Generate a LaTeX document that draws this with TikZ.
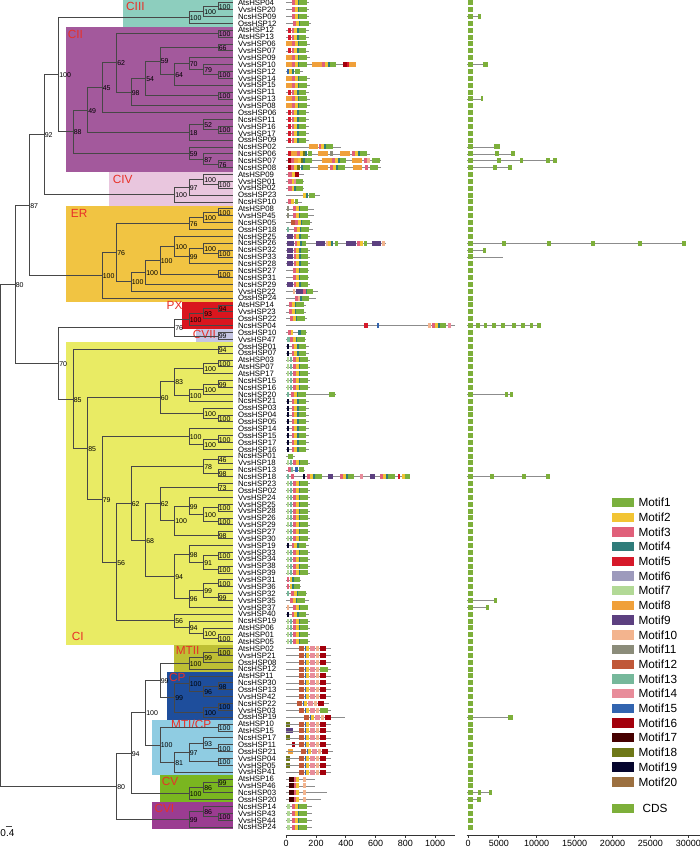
\documentclass[tikz,border=0pt]{standalone}
\usepackage{fontspec}
\setmainfont{Liberation Sans}
\usetikzlibrary{calc}
\definecolor{cIII}{RGB}{141,206,190}
\definecolor{cII}{RGB}{163,89,156}
\definecolor{cIV}{RGB}{233,198,222}
\definecolor{cER}{RGB}{241,196,66}
\definecolor{cPX}{RGB}{217,22,30}
\definecolor{cVII}{RGB}{197,197,227}
\definecolor{cI}{RGB}{233,235,100}
\definecolor{cMTII}{RGB}{190,191,52}
\definecolor{cCP}{RGB}{30,78,156}
\definecolor{cMTI}{RGB}{143,204,226}
\definecolor{cV}{RGB}{122,182,32}
\definecolor{cVI}{RGB}{155,60,145}
\definecolor{cred}{RGB}{232,48,40}
\definecolor{m1}{RGB}{122,176,62}
\definecolor{m2}{RGB}{242,196,51}
\definecolor{m3}{RGB}{224,96,122}
\definecolor{m4}{RGB}{47,124,122}
\definecolor{m5}{RGB}{214,25,42}
\definecolor{m6}{RGB}{157,154,188}
\definecolor{m7}{RGB}{178,217,150}
\definecolor{m8}{RGB}{240,160,58}
\definecolor{m9}{RGB}{92,64,128}
\definecolor{m10}{RGB}{243,180,142}
\definecolor{m11}{RGB}{139,140,122}
\definecolor{m12}{RGB}{192,88,56}
\definecolor{m13}{RGB}{118,184,155}
\definecolor{m14}{RGB}{232,140,154}
\definecolor{m15}{RGB}{50,100,175}
\definecolor{m16}{RGB}{163,0,12}
\definecolor{m17}{RGB}{70,0,0}
\definecolor{m18}{RGB}{110,120,24}
\definecolor{m19}{RGB}{5,5,45}
\definecolor{m20}{RGB}{156,112,64}
\definecolor{cds}{RGB}{125,175,58}
% tree node: name, level, child A, child B, support
\newcommand\tn[5]{%
  \path let \p1=(#3), \p2=(#4) in coordinate (#1) at ({232.7pt-14.5pt*#2},{0.5*(\y1)+0.5*(\y2)});
  \draw[br] (#3) -| (#1) |- (#4);
  \node[bs] (#1l) at (#1) {#5};}
% motif helpers
\newcommand\mtb[4]{\pgfmathsetmacro\myy{2.7+(#1-1)*6.87}\fill[#4] ({#2},{\myy-2.5}) rectangle ({#3},{\myy+2.5});}
\newcommand\mtl[2]{\pgfmathsetmacro\myy{2.7+(#1-1)*6.87}\draw[gl] (286,\myy) -- ({#2},\myy);}
\newcommand\mtc[2]{\mtb{#1}{#2}{#2+2.8}{m3}\mtb{#1}{#2+2.8}{#2+5.6}{m2}\mtb{#1}{#2+5.6}{#2+7.4}{m4}\mtb{#1}{#2+7.4}{#2+14.5}{m1}}
\newcommand\ptA[1]{\mtl{#1}{309}\mtc{#1}{292}}
\newcommand\ptR[1]{\mtl{#1}{309}\mtb{#1}{288}{291}{m5}\mtc{#1}{291.5}}
\newcommand\ptO[1]{\mtl{#1}{310}\mtb{#1}{286}{291.5}{m8}\mtc{#1}{292}}
\newcommand\ptC[1]{\mtl{#1}{309.5}\mtb{#1}{286.5}{288.5}{m7}\mtb{#1}{289.5}{291.5}{m13}\mtc{#1}{293}}
\newcommand\ptN[1]{\mtl{#1}{309}\mtb{#1}{286.5}{288.7}{m19}\mtc{#1}{291.5}}
\newcommand\ptP[1]{\mtl{#1}{310}\mtb{#1}{286.5}{293}{m9}\mtc{#1}{293.5}}
\newcommand\ptM[2]{\mtl{#1}{#2+32}\mtb{#1}{#2}{#2+4.5}{m12}\mtb{#1}{#2+5.5}{#2+7}{m15}\mtb{#1}{#2+7}{#2+10}{m2}\mtb{#1}{#2+11}{#2+15.5}{m14}\mtb{#1}{#2+16.5}{#2+19.5}{m10}\mtb{#1}{#2+20.5}{#2+27}{m16}}
\newcommand\ptV[2]{\mtl{#1}{#2}\mtb{#1}{288.5}{293.5}{m17}\mtb{#1}{293.5}{296}{m3}\mtb{#1}{296}{298.5}{m2}\mtb{#1}{303}{305.5}{m10}}
\newcommand\ptS[1]{\mtl{#1}{311.5}\mtb{#1}{287.3}{289.5}{m7}\mtc{#1}{292}}
% CDS helpers
\newcommand\cdb[3]{\pgfmathsetmacro\myy{2.7+(#1-1)*6.87}\fill[cds] ({#2},{\myy-2.5}) rectangle ({#3},{\myy+2.5});}
\newcommand\cdl[3]{\pgfmathsetmacro\myy{2.7+(#1-1)*6.87}\draw[gl] ({#2},\myy) -- ({#3},\myy);}
\begin{document}
\begin{tikzpicture}[x=1pt,y=-1pt,
  br/.style={draw=black!72,line width=0.75pt},
  bs/.style={anchor=base west,inner sep=0pt,xshift=0.4pt,yshift=-3.1pt,font=\fontsize{7}{7}\selectfont},
  lf/.style={anchor=base west,inner sep=0pt,font=\fontsize{7.8}{8}\selectfont},
  cl/.style={anchor=base west,inner sep=0pt,text=cred,font=\fontsize{11.8}{12}\selectfont},
  gl/.style={draw=black!45,line width=0.55pt},
  ax/.style={draw=black!80,line width=0.7pt},
  axl/.style={anchor=base,inner sep=0pt,font=\fontsize{9}{9}\selectfont},
  lg/.style={anchor=base west,inner sep=0pt,font=\fontsize{11.8}{12}\selectfont}]
\useasboundingbox (0,0) rectangle (700,850);
\fill[white] (0,0) rectangle (700,850);
% clade backgrounds
\fill[cIII] (123.3,0) rectangle (233,27.3);
\fill[cII] (65.7,27.3) rectangle (233,171.7);
\fill[cIV] (109,171.7) rectangle (233,205.7);
\fill[cER] (65.7,205.7) rectangle (233,301.7);
\fill[cPX] (181.7,301.7) rectangle (233,329.3);
\fill[cVII] (196,329.3) rectangle (233,341.7);
\fill[cI] (65.7,342.3) rectangle (233,645);
\fill[cMTII] (174.3,645) rectangle (233,671.7);
\fill[cCP] (166.7,671.7) rectangle (233,720);
\fill[cMTI] (152.3,720) rectangle (233,775);
\fill[cV] (160,775) rectangle (233,801.7);
\fill[cVI] (152.3,801.7) rectangle (233,829.3);
% clade labels
\node[cl] (kIII) at (126,10.9) {CIII};
\node[cl] (kII) at (67.7,38.9) {CII};
\node[cl] (kIV) at (112.7,183.2) {CIV};
\node[cl] (kER) at (70.7,217.9) {ER};
\node[cl] (kPX) at (166.5,309.9) {PX};
\node[cl] (kVII) at (192.7,338.9) {CVII};
\node[cl] (kI) at (71.7,640.2) {CI};
\node[cl] (kMTII) at (175.7,654.7) {MTII};
\node[cl] (kCP) at (169,681.2) {CP};
\node[cl] (kMTI) at (171,728.9) {MTI/CP};
\node[cl] (kV) at (161.7,785.2) {CV};
\node[cl] (kVI) at (154.3,812.2) {CVI};
% leaves
\foreach \nm [count=\i] in {AtsHSP04,VvsHSP20,NcsHSP09,OssHSP12,AtsHSP12,AtsHSP13,VvsHSP06,VvsHSP07,VvsHSP09,VvsHSP10,VvsHSP12,VvsHSP14,VvsHSP15,VvsHSP11,VvsHSP13,VvsHSP08,OssHSP06,NcsHSP11,VvsHSP16,VvsHSP17,OssHSP09,NcsHSP02,NcsHSP06,NcsHSP07,NcsHSP08,AtsHSP09,VvsHSP01,VvsHSP02,OssHSP23,NcsHSP10,AtsHSP08,VvsHSP45,NcsHSP05,OssHSP18,NcsHSP25,NcsHSP26,NcsHSP32,NcsHSP33,NcsHSP28,NcsHSP27,NcsHSP31,NcsHSP29,VvsHSP22,OssHSP24,AtsHSP14,VvsHSP23,OssHSP22,NcsHSP04,OssHSP10,VvsHSP47,OssHSP01,OssHSP07,AtsHSP03,AtsHSP07,AtsHSP17,NcsHSP15,NcsHSP16,NcsHSP20,NcsHSP21,OssHSP03,OssHSP04,OssHSP05,OssHSP14,OssHSP15,OssHSP17,OssHSP16,NcsHSP01,VvsHSP18,NcsHSP13,NcsHSP18,NcsHSP23,OssHSP02,VvsHSP24,VvsHSP25,VvsHSP28,VvsHSP26,VvsHSP29,VvsHSP27,VvsHSP30,VvsHSP19,VvsHSP33,VvsHSP34,VvsHSP38,VvsHSP39,VvsHSP31,VvsHSP36,VvsHSP32,VvsHSP35,VvsHSP37,VvsHSP40,NcsHSP19,AtsHSP06,AtsHSP01,AtsHSP05,AtsHSP02,VvsHSP21,OssHSP08,NcsHSP12,AtsHSP11,NcsHSP30,OssHSP13,VvsHSP42,NcsHSP22,VvsHSP03,OssHSP19,AtsHSP10,AtsHSP15,NcsHSP17,OssHSP11,OssHSP21,VvsHSP04,VvsHSP05,VvsHSP41,AtsHSP16,VvsHSP46,NcsHSP03,OssHSP20,NcsHSP14,VvsHSP43,VvsHSP44,NcsHSP24} {
  \pgfmathsetmacro\yy{2.7+(\i-1)*6.87}
  \coordinate (L\i) at (232.7,\yy);
  \node[lf] (T\i) at (237.8,{\yy+2.8}) {\nm};
}
% ---- tree ----
\tn{c3a}{1}{L1}{L2}{100}
\tn{c3b}{2}{c3a}{L3}{100}
\tn{c3}{3}{c3b}{L4}{100}
\tn{a1}{1}{L5}{L6}{100}
\tn{a2}{1}{L7}{L8}{66}
\tn{a3}{1}{L11}{L12}{100}
\tn{a4}{2}{L10}{a3}{79}
\tn{a5}{3}{L9}{a4}{70}
\tn{a6}{4}{a5}{L13}{64}
\tn{a7}{5}{a2}{a6}{59}
\tn{a8}{1}{L14}{L15}{100}
\tn{a9}{6}{a7}{a8}{54}
\tn{a10}{7}{a9}{L16}{98}
\tn{a11}{8}{a1}{a10}{62}
\tn{a12}{9}{a11}{L17}{45}
\tn{a13}{1}{L19}{L20}{100}
\tn{a14}{2}{L18}{a13}{52}
\tn{a15}{3}{a14}{L21}{18}
\tn{a16}{10}{a12}{a15}{49}
\tn{a17}{1}{L24}{L25}{76}
\tn{a18}{2}{L23}{a17}{87}
\tn{a19}{3}{L22}{a18}{59}
\tn{a20}{11}{a16}{a19}{88}
\tn{cc}{12}{c3}{a20}{100}
\tn{d1}{1}{L27}{L28}{100}
\tn{d2}{2}{L26}{d1}{100}
\tn{d3}{3}{d2}{L29}{97}
\tn{d4}{4}{d3}{L30}{100}
\tn{n92}{13}{cc}{d4}{92}
\tn{e1}{1}{L31}{L32}{100}
\tn{e2}{2}{e1}{L33}{100}
\tn{e3}{3}{e2}{L34}{76}
\tn{e4}{1}{L37}{L38}{100}
\tn{e5}{2}{L36}{e4}{100}
\tn{e6}{3}{e5}{L39}{99}
\tn{e7}{4}{L35}{e6}{100}
\tn{e8}{1}{L40}{L41}{100}
\tn{e9}{5}{e7}{e8}{100}
\tn{e10}{6}{e9}{L42}{100}
\tn{e11}{7}{e10}{L43}{100}
\tn{e12}{8}{e3}{e11}{76}
\tn{e13}{9}{e12}{L44}{100}
\tn{n87}{14}{n92}{e13}{87}
\tn{p1}{1}{L45}{L46}{94}
\tn{p2}{2}{p1}{L47}{93}
\tn{p3}{3}{p2}{L48}{100}
\tn{p4}{1}{L49}{L50}{99}
\tn{p5}{4}{p3}{p4}{76}
\tn{i1}{1}{L51}{L52}{94}
\tn{i2}{1}{L53}{L54}{100}
\tn{i3}{2}{i2}{L55}{100}
\tn{i4}{1}{L56}{L57}{99}
\tn{i5}{2}{i4}{L58}{100}
\tn{i6}{3}{i5}{L59}{100}
\tn{i7}{4}{i3}{i6}{83}
\tn{i8}{1}{L61}{L62}{100}
\tn{i9}{2}{L60}{i8}{100}
\tn{i10}{5}{i7}{i9}{60}
\tn{i11}{1}{L64}{L65}{100}
\tn{i12}{2}{i11}{L66}{100}
\tn{i13}{3}{L63}{i12}{100}
\tn{i14}{1}{L67}{L68}{46}
\tn{i15}{1}{L69}{L70}{98}
\tn{i16}{2}{i14}{i15}{78}
\tn{i17}{1}{L71}{L72}{73}
\tn{i18}{1}{L74}{L75}{100}
\tn{i19}{1}{L76}{L77}{100}
\tn{i20}{2}{i18}{i19}{100}
\tn{i21}{3}{L73}{i20}{99}
\tn{i22}{1}{L78}{L79}{98}
\tn{i23}{4}{i21}{i22}{100}
\tn{i24}{5}{i17}{i23}{62}
\tn{i25}{1}{L81}{L82}{100}
\tn{i26}{1}{L83}{L84}{100}
\tn{i27}{2}{i25}{i26}{91}
\tn{i28}{3}{L80}{i27}{98}
\tn{i29}{1}{L85}{L86}{100}
\tn{i30}{1}{L87}{L88}{99}
\tn{i31}{2}{i29}{i30}{99}
\tn{i32}{3}{i31}{L89}{96}
\tn{i33}{4}{i28}{i32}{94}
\tn{i34}{6}{i24}{i33}{68}
\tn{i35}{7}{i16}{i34}{62}
\tn{i36}{1}{L93}{L94}{100}
\tn{i37}{2}{L92}{i36}{100}
\tn{i38}{3}{L91}{i37}{94}
\tn{i39}{4}{L90}{i38}{56}
\tn{i40}{8}{i35}{i39}{56}
\tn{i41}{9}{i13}{i40}{79}
\tn{i42}{10}{i10}{i41}{85}
\tn{i43}{11}{i1}{i42}{85}
\tn{n70}{12}{p5}{i43}{70}
\tn{u80}{15}{n87}{n70}{80}
\tn{q1}{1}{L95}{L96}{100}
\tn{q2}{2}{q1}{L97}{99}
\tn{q3}{3}{q2}{L98}{100}
\tn{q4}{1}{L100}{L101}{98}
\tn{q5}{2}{q4}{L102}{96}
\tn{q6}{3}{L99}{q5}{100}
\tn{q7}{1}{L103}{L104}{100}
\tn{q8}{2}{q7}{L105}{100}
\tn{q9}{4}{q6}{q8}{99}
\tn{q10}{5}{q3}{q9}{99}
\tn{q11}{1}{L106}{L107}{100}
\tn{q12}{1}{L109}{L110}{100}
\tn{q13}{2}{L108}{q12}{93}
\tn{q14}{1}{L111}{L112}{100}
\tn{q15}{3}{q13}{q14}{97}
\tn{q16}{4}{q15}{L113}{81}
\tn{q17}{5}{q11}{q16}{100}
\tn{q18}{6}{q10}{q17}{100}
\tn{q19}{1}{L114}{L115}{99}
\tn{q20}{2}{q19}{L116}{86}
\tn{q21}{3}{q20}{L117}{100}
\tn{q22}{7}{q18}{q21}{94}
\tn{q23}{1}{L119}{L120}{100}
\tn{q24}{2}{L118}{q23}{86}
\tn{q25}{3}{q24}{L121}{99}
\tn{b80}{8}{q22}{q25}{80}
\tn{root}{16}{u80}{b80}{}
% scale bar
\draw[br] (5.5,826) -- (11.5,826);
\node[anchor=base west,inner sep=0pt,font=\fontsize{10}{10}\selectfont] (sc) at (0.3,836.6) {0.4};
% ---- motifs ----
\ptA{1}\ptA{2}\ptA{3}
\mtl{4}{311}\mtc{4}{293}\mtb{4}{300.4}{309}{m1}
\ptR{5}\ptR{6}\ptO{7}\ptR{8}\ptO{9}
\mtl{10}{356}\mtb{10}{286}{291.5}{m8}\mtc{10}{292}\mtb{10}{312}{322}{m8}\mtb{10}{322}{325}{m3}\mtb{10}{325}{327.5}{m2}\mtb{10}{327.5}{329.5}{m4}\mtb{10}{329.5}{336}{m1}\mtb{10}{343}{347}{m16}\mtb{10}{347}{349}{m5}\mtb{10}{349}{355.5}{m8}
\mtl{11}{303}\mtb{11}{286.5}{288.5}{m15}\mtb{11}{289}{291.5}{m2}\mtb{11}{291.5}{293.5}{m4}\mtb{11}{294.5}{300}{m1}
\ptO{12}\ptO{13}\ptR{14}\ptO{15}\ptO{16}\ptR{17}\ptR{18}\ptR{19}\ptR{20}\ptR{21}
\mtl{22}{341}\mtb{22}{309}{318}{m8}\mtc{22}{318.5}
\mtl{23}{370}\mtb{23}{288}{291}{m5}\mtb{23}{291}{297}{m8}\mtb{23}{297}{300}{m3}\mtb{23}{300}{302.5}{m2}\mtb{23}{303}{305}{m18}\mtb{23}{305}{307}{m4}\mtb{23}{307.5}{312}{m1}\mtb{23}{318}{328}{m8}\mtb{23}{330}{333}{m11}\mtb{23}{340}{350}{m8}\mtb{23}{352}{355}{m3}\mtb{23}{355}{358}{m2}\mtb{23}{358}{360}{m4}\mtb{23}{360}{367}{m1}
\mtl{24}{381}\mtb{24}{288}{291}{m16}\mtb{24}{291}{294}{m3}\mtb{24}{294}{298}{m8}\mtb{24}{298}{300.5}{m2}\mtb{24}{300.5}{303}{m18}\mtb{24}{303}{305}{m4}\mtb{24}{305}{312}{m1}\mtb{24}{322}{332}{m8}\mtb{24}{332}{335}{m3}\mtb{24}{335}{338}{m2}\mtb{24}{338}{340}{m4}\mtb{24}{340}{346}{m1}\mtb{24}{352}{362}{m8}\mtb{24}{364}{367}{m3}\mtb{24}{367}{370}{m10}\mtb{24}{372}{380}{m1}
\mtl{25}{381}\mtb{25}{288}{291}{m16}\mtb{25}{291}{294}{m3}\mtb{25}{294}{297}{m2}\mtb{25}{297}{300}{m18}\mtb{25}{300.5}{302.5}{m4}\mtb{25}{302.5}{310}{m1}\mtb{25}{318}{328}{m8}\mtb{25}{330}{333}{m3}\mtb{25}{333}{336}{m2}\mtb{25}{336}{338}{m4}\mtb{25}{338}{345}{m1}\mtb{25}{353}{362}{m8}\mtb{25}{365}{368}{m3}\mtb{25}{370}{378}{m1}
\mtl{26}{304}\mtb{26}{288}{291.5}{m3}\mtb{26}{291.5}{294.5}{m2}\mtb{26}{295}{299}{m16}
\mtl{27}{304}\mtb{27}{288}{291.5}{m3}\mtb{27}{291.5}{294}{m2}\mtb{27}{294}{296}{m14}\mtb{27}{296}{302.5}{m1}
\mtl{28}{304}\mtb{28}{288}{291.5}{m3}\mtb{28}{291.5}{294}{m2}\mtb{28}{294}{296}{m4}\mtb{28}{296}{302.5}{m1}
\mtl{29}{320}\mtb{29}{303}{306}{m2}\mtb{29}{306}{308}{m4}\mtb{29}{308.5}{315}{m1}
\mtl{30}{302}\mtb{30}{288}{291}{m3}\mtb{30}{291}{294}{m2}\mtb{30}{294.5}{298}{m1}
\mtl{31}{314}\mtb{31}{287}{289}{m11}\mtc{31}{293}
\mtl{32}{314}\mtb{32}{287}{289}{m11}\mtc{32}{293}
\mtl{33}{312}\mtb{33}{291}{294.5}{m12}\mtc{33}{295}
\mtl{34}{313}\mtb{34}{287}{289}{m13}\mtc{34}{294}
\ptP{35}
\mtl{36}{386}\mtb{36}{286.5}{294}{m9}\mtb{36}{294.5}{297}{m3}\mtb{36}{297}{300}{m2}\mtb{36}{300}{302}{m4}\mtb{36}{302}{306}{m1}\mtb{36}{316}{325}{m9}\mtb{36}{326}{328}{m10}\mtb{36}{328}{331}{m2}\mtb{36}{331}{333}{m4}\mtb{36}{335}{338}{m1}\mtb{36}{346}{356}{m9}\mtb{36}{357}{360}{m3}\mtb{36}{360}{363}{m2}\mtb{36}{364}{367}{m1}\mtb{36}{372}{381}{m9}\mtb{36}{382}{385}{m10}
\ptP{37}\ptP{38}\ptP{39}
\mtl{40}{309}\mtc{40}{293}
\mtl{41}{309}\mtc{41}{293}
\ptP{42}
\mtl{43}{318}\mtb{43}{293}{295}{m10}\mtb{43}{296}{303}{m9}\mtb{43}{303}{305.5}{m3}\mtb{43}{305.5}{307}{m4}\mtb{43}{307}{313}{m1}
\mtl{44}{316}\mtb{44}{295}{297.5}{m3}\mtb{44}{297.5}{300}{m10}\mtb{44}{300}{302}{m4}\mtb{44}{302}{309}{m1}
\mtl{45}{306}\mtc{45}{289}
\mtl{46}{306}\mtc{46}{289}
\mtl{47}{307}\mtc{47}{290}
\mtl{48}{455}\mtb{48}{364}{368}{m5}\mtb{48}{376.5}{379}{m15}\mtb{48}{428}{431}{m10}\mtb{48}{432}{435}{m3}\mtb{48}{435}{438}{m2}\mtb{48}{438}{440}{m4}\mtb{48}{440}{446}{m1}\mtb{48}{448}{451}{m14}
\mtl{49}{307}\mtb{49}{288}{291}{m3}\mtb{49}{291}{293}{m2}\mtb{49}{298}{300.5}{m4}\mtb{49}{300.5}{306}{m1}
\mtl{50}{306}\mtb{50}{287}{289.5}{m13}\mtc{50}{290}
\ptN{51}\ptN{52}
\ptC{53}\ptC{54}\ptC{55}\ptC{56}\ptC{57}
\mtl{58}{336}\mtb{58}{287}{289}{m13}\mtc{58}{291}\mtb{58}{329}{335}{m1}
\ptN{59}\ptN{60}\ptN{61}\ptN{62}\ptN{63}\ptN{64}\ptN{65}\ptN{66}
\mtl{67}{295}\mtb{67}{288}{293}{m1}
\ptC{68}
\mtl{69}{305}\mtb{69}{288}{291}{m3}\mtb{69}{291}{293}{m13}\mtb{69}{295}{298}{m15}\mtb{69}{299}{304}{m1}
\mtl{70}{410}\mtb{70}{287}{289}{m13}\mtb{70}{291}{294}{m3}\mtb{70}{303}{305}{m19}\mtb{70}{307}{310}{m3}\mtb{70}{310}{313}{m2}\mtb{70}{313}{315}{m4}\mtb{70}{315}{322}{m1}\mtb{70}{328}{333}{m9}\mtb{70}{340}{343}{m3}\mtb{70}{343}{346}{m2}\mtb{70}{346}{348}{m4}\mtb{70}{348}{354}{m1}\mtb{70}{360}{363}{m14}\mtb{70}{370}{375}{m9}\mtb{70}{380}{383}{m3}\mtb{70}{383}{386}{m2}\mtb{70}{386}{388}{m4}\mtb{70}{388}{395}{m1}\mtb{70}{398}{400}{m5}\mtb{70}{402}{405}{m2}\mtb{70}{405}{410}{m1}
\ptC{71}\ptC{72}\ptC{73}\ptC{74}\ptC{75}\ptC{76}\ptC{77}\ptC{78}\ptC{79}
\ptN{80}
\ptC{81}\ptC{82}\ptC{83}\ptC{84}
\mtl{85}{301}\mtb{85}{287}{289}{m3}\mtb{85}{290}{292}{m2}\mtb{85}{292}{293.5}{m4}\mtb{85}{293.5}{300}{m1}
\mtl{86}{301}\mtb{86}{287}{289}{m3}\mtb{86}{290}{292}{m2}\mtb{86}{292}{293.5}{m4}\mtb{86}{293.5}{300}{m1}
\mtl{87}{307}\mtb{87}{287}{289}{m13}\mtc{87}{291}
\mtl{88}{309}\mtc{88}{290}
\mtl{89}{308}\mtb{89}{287}{289}{m10}\mtc{89}{293}
\ptN{90}
\ptC{91}\ptC{92}\ptC{93}\ptC{94}
\ptM{95}{299}\ptM{96}{299}\ptM{97}{299}
\ptM{98}{299}\mtb{98}{320}{328}{m1}
\ptM{99}{299}\ptM{100}{299}\ptM{101}{299}\ptM{102}{299}
\ptM{103}{297}
\ptM{104}{299}\mtb{104}{320}{328}{m1}
\mtl{105}{345}\ptM{105}{304}
\mtb{106}{286}{289.5}{m18}\ptM{106}{299}
\mtb{107}{286}{292.5}{m9}\ptM{107}{299}
\mtb{108}{286}{289.5}{m18}\ptM{108}{299}
\mtb{109}{292}{294.5}{m16}\ptM{109}{299}
\mtb{110}{288}{293}{m8}\ptM{110}{301}
\mtb{111}{286}{289.5}{m18}\ptM{111}{299}
\mtb{112}{286}{289.5}{m18}\ptM{112}{299}
\ptM{113}{299}
\ptV{114}{315}\ptV{115}{315}\ptV{116}{327}\ptV{117}{321}
\ptS{118}\ptS{119}\ptS{120}\ptS{121}
% ---- CDS ----
\cdl{3}{467}{481}\cdl{10}{467}{488}\cdl{15}{467}{483}
\cdl{22}{467}{500}\cdl{23}{467}{515}\cdl{24}{467}{557}\cdl{25}{467}{512}
\cdl{36}{467}{686}\cdl{37}{467}{486}\cdl{38}{467}{503}
\cdl{48}{467}{541}\cdl{58}{467}{513}\cdl{70}{467}{550}
\cdl{88}{467}{497}\cdl{89}{467}{489}\cdl{105}{467}{513}
\cdl{116}{467}{492}\cdl{117}{467}{481}
\foreach \i in {1,...,121} {\cdb{\i}{467.5}{473}}
\cdb{3}{478}{481}\cdb{10}{483}{488}\cdb{15}{481}{483}
\cdb{22}{494}{500}
\cdb{23}{495}{499}\cdb{23}{511}{515}
\cdb{24}{497}{501}\cdb{24}{520}{523}\cdb{24}{546}{550}\cdb{24}{553}{557}
\cdb{25}{493}{497}\cdb{25}{508}{512}
\cdb{36}{502}{506}\cdb{36}{547}{551}\cdb{36}{591}{595}\cdb{36}{638}{642}\cdb{36}{682}{686}
\cdb{37}{483}{486}
\cdb{48}{476}{480}\cdb{48}{484}{487}\cdb{48}{492}{496}\cdb{48}{501}{505}\cdb{48}{512}{516}\cdb{48}{521}{525}\cdb{48}{530}{533}\cdb{48}{537}{541}
\cdb{58}{505}{508}\cdb{58}{510}{513}
\cdb{70}{490}{494}\cdb{70}{522}{526}\cdb{70}{546}{550}
\cdb{88}{494}{497}\cdb{89}{486}{489}\cdb{105}{508}{513}
\cdb{116}{478}{481}\cdb{116}{489}{492}\cdb{117}{477}{481}
% ---- axes ----
\draw[ax] (285.5,835) -- (455,835);
\foreach \v/\t in {0/0,1/200,2/400,3/600,4/800,5/1000} {
  \draw[ax] ({286.2+29.8*\v},835) -- ({286.2+29.8*\v},838);
  \node[axl] (pa\v) at ({286.2+29.8*\v},846.5) {\t};
}
\draw[ax] (466.5,835) -- (700,835);
\foreach \x/\t in {468/0,498.8/5000,536.7/10000,574.6/15000,612.5/20000,650.4/25000,688.3/30000} {
  \draw[ax] (\x,835) -- (\x,838);
  \node[axl] (ca\t) at (\x,846.5) {\t};
}
% ---- legend ----
\foreach \k in {1,...,20} {
  \pgfmathsetmacro\ly{502.5+(\k-1)*14.7}
  \fill[m\k] (612.3,{\ly-4.7}) rectangle (634,{\ly+4.7});
  \node[lg] (lg\k) at (638.3,{\ly+4.2}) {Motif\k};
}
\fill[cds] (612.3,803.6) rectangle (634,813);
\node[lg] (lgcds) at (642.3,812.5) {CDS};
\end{tikzpicture}
\end{document}
